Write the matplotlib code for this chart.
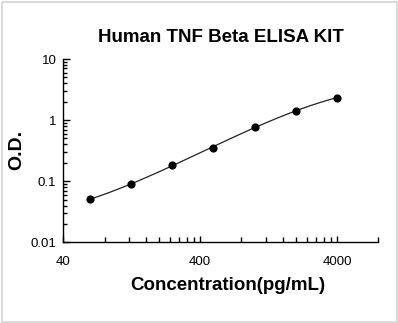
import numpy as np
import matplotlib
matplotlib.use("Agg")
import matplotlib.pyplot as plt
from matplotlib.ticker import FixedLocator, NullFormatter, FixedFormatter, LogLocator
from matplotlib.patches import Rectangle

# Data
conc = [62.5, 125, 250, 500, 1000, 2000, 4000]
od = [0.0506, 0.089, 0.186, 0.355, 0.76, 1.43, 2.33]
x_major = [40, 400, 4000]
x_major_labels = ["40", "400", "4000"]
y_major = [0.01, 0.1, 1, 10]
y_major_labels = ["0.01", "0.1", "1", "10"]
title = "Human TNF Beta ELISA KIT"
xlabel = "Concentration(pg/mL)"
ylabel = "O.D."

plt.rcParams['font.family'] = ['Liberation Sans', 'DejaVu Sans']

W, H = 398, 323
fig = plt.figure(figsize=(W / 100, H / 100), dpi=100)
fig.patch.set_facecolor('white')
fig.patches.append(Rectangle((1.5 / W, 1.5 / H), (W - 3) / W, (H - 3) / H,
                             transform=fig.transFigure, fill=False,
                             edgecolor='#d4d4d4', linewidth=1.2))

left, right, top, bottom = 63.3, 378.3, 59.0, 242.3
ax = fig.add_axes([left / W, 1 - bottom / H, (right - left) / W, (bottom - top) / H])
ax.set_xscale('log')
ax.set_yscale('log')
ax.set_xlim(40, 8000)
ax.set_ylim(0.01, 10)

# fitted curve (cubic in log-log space)
lx = np.log10(conc)
ly = np.log10(od)
coef = np.polyfit(lx, ly, 3)
xs = np.logspace(lx[0], lx[-1], 200)
ys = 10 ** np.polyval(coef, np.log10(xs))
ax.plot(xs, ys, color='#222222', linewidth=0.9)
ax.scatter(conc, od, s=24, color='black', zorder=3)

for s in ['top', 'right']:
    ax.spines[s].set_visible(False)
for s in ['left', 'bottom']:
    ax.spines[s].set_linewidth(1.0)

# x ticks: multiples of 40
x_minor = []
for dec in [40, 400, 4000]:
    for k in range(2, 10):
        v = dec * k
        if v <= 8000:
            x_minor.append(v)
ax.xaxis.set_major_locator(FixedLocator(x_major))
ax.xaxis.set_major_formatter(FixedFormatter(x_major_labels))
ax.xaxis.set_minor_locator(FixedLocator(x_minor))
ax.xaxis.set_minor_formatter(NullFormatter())
ax.yaxis.set_major_locator(FixedLocator(y_major))
ax.yaxis.set_major_formatter(FixedFormatter(y_major_labels))
ax.yaxis.set_minor_locator(LogLocator(base=10, subs=np.arange(2, 10)))
ax.yaxis.set_minor_formatter(NullFormatter())

ax.tick_params(axis='x', which='major', direction='in', length=4, width=1,
               labelsize=9.5, pad=10, colors='black')
ax.tick_params(axis='x', which='minor', direction='in', length=3.5, width=1)
ax.tick_params(axis='y', which='major', direction='in', length=5, width=1,
               labelsize=9.5, pad=5)
ax.tick_params(axis='y', which='minor', direction='in', length=3, width=1)

fig.text(221 / W, 1 - 38 / H, title, ha='center', va='center',
         fontsize=13.5, fontweight='bold')
fig.text(228 / W, 1 - 285 / H, xlabel, ha='center', va='center',
         fontsize=13.5, fontweight='bold')
fig.text(17 / W, 1 - 150 / H, ylabel, ha='center', va='center',
         rotation=90, fontsize=14, fontweight='bold')

fig.savefig('out.png', dpi=100, facecolor='white')
